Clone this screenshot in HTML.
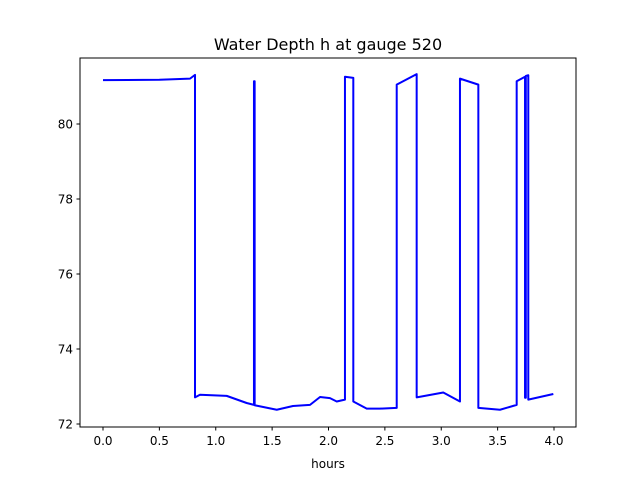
<!DOCTYPE html>
<html><head><meta charset="utf-8"><style>body{margin:0;background:#fff}svg text{font-family:"DejaVu Sans","Liberation Sans",sans-serif}</style></head>
<body>
<svg id="chart" width="640" height="480">
<rect width="640" height="480" fill="#fff"/>
<text x="328" y="50" font-size="16" text-anchor="middle">Water Depth h at gauge 520</text>
<g id="plot"></g>
<rect x="80" y="58" width="496" height="369" fill="none" stroke="#000" stroke-width="1"/>
<text x="328" y="468" font-size="12" text-anchor="middle">hours</text>
</svg>
<script>
const times=[0,0.5,0.772,0.816,0.816,0.860,1.097,1.274,1.339,1.339,1.345,1.345,1.541,1.685,1.836,1.925,2.013,2.073,2.146,2.146,2.220,2.220,2.339,2.457,2.605,2.605,2.782,2.782,3.018,3.166,3.166,3.329,3.329,3.521,3.669,3.669,3.743,3.743,3.750,3.750,3.772,3.772,3.994];
const depths=[81.17,81.18,81.21,81.31,72.71,72.78,72.75,72.56,72.51,81.14,81.14,72.5,72.38,72.48,72.51,72.72,72.69,72.6,72.65,81.26,81.23,72.6,72.41,72.41,72.43,81.05,81.33,72.71,72.84,72.6,81.21,81.05,72.43,72.38,72.51,81.14,81.26,72.7,72.7,81.28,81.3,72.65,72.8];
const xTicks=[0,0.5,1,1.5,2,2.5,3,3.5,4];
const yTicks=[72,74,76,78,80];
const xs=t=>103+t*112.75, ys=v=>124-(v-80)*37.5;
const g=document.getElementById('plot'),NS='http://www.w3.org/2000/svg';
function mk(tag,attrs){const e=document.createElementNS(NS,tag);for(const k in attrs)e.setAttribute(k,attrs[k]);g.appendChild(e);return e;}
xTicks.forEach(t=>{
 const l=mk('line',{x1:xs(t),x2:xs(t),y1:427,y2:430.5,stroke:'#000'});
 
 
 const tx=mk('text',{x:xs(t),y:445,'font-size':12,'text-anchor':'middle'});tx.textContent=t.toFixed(1);
 
 
});
yTicks.forEach(v=>{
 const l=mk('line',{x1:76.5,x2:80,y1:ys(v),y2:ys(v),stroke:'#000'});
 
 
 const tx=mk('text',{x:73,y:ys(v)+4.5,'font-size':12,'text-anchor':'end'});tx.textContent=v;
 
 
});
const p=mk('polyline',{points:times.map((t,i)=>xs(t)+','+ys(depths[i])).join(' '),fill:'none',stroke:'#0000ff','stroke-width':2,'stroke-linejoin':'round'});


</script>
</body></html>
